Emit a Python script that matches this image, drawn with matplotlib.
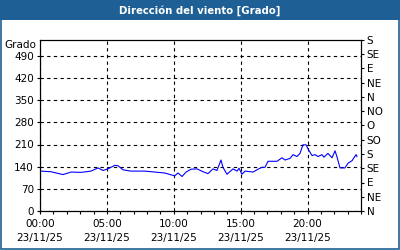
import matplotlib
matplotlib.use('Agg')
import matplotlib.pyplot as plt
from matplotlib.patches import Rectangle
from matplotlib.ticker import MultipleLocator

# hours since 00:00 on 23/11/25, wind direction in degrees
hours = [0.05, 0.82, 1.72, 2.32, 3.07, 3.81, 4.34, 4.71, 5.08, 5.58,
         5.83, 6.21, 6.80, 7.83, 8.58, 9.32, 10.07, 10.32, 10.62, 10.92,
         11.29, 11.74, 12.19, 12.56, 12.93, 13.23, 13.53, 13.68, 13.98, 14.43,
         14.73, 14.88, 15.10, 15.33, 15.93, 16.30, 16.60, 16.82, 17.05, 17.72,
         18.09, 18.32, 18.69, 18.92, 19.21, 19.44, 19.66, 19.89, 20.04, 20.34,
         20.56, 20.79, 21.08, 21.23, 21.53, 21.83, 22.06, 22.21, 22.43, 22.80,
         23.03, 23.33, 23.63, 23.70]
degrees = [126, 124, 115, 123, 122, 126, 136, 128, 133, 144,
           143, 130, 126, 126, 123, 120, 111, 120, 109, 123,
           132, 133, 124, 118, 133, 128, 161, 138, 116, 133,
           126, 135, 116, 126, 123, 132, 138, 138, 157, 157,
           168, 161, 166, 178, 172, 182, 209, 209, 196, 175,
           178, 172, 178, 170, 182, 168, 190, 170, 136, 136,
           151, 159, 178, 172]

x_ticks = [0, 5, 10, 15, 20]
x_labels = ['00:00\n23/11/25', '05:00\n23/11/25', '10:00\n23/11/25',
            '15:00\n23/11/25', '20:00\n23/11/25']
y_ticks = [0, 70, 140, 210, 280, 350, 420, 490]
compass_ticks = [0, 45, 90, 135, 180, 225, 270, 315, 360, 405, 450, 495, 540]
compass_labels = ['N', 'NE', 'E', 'SE', 'S', 'SO', 'O', 'NO', 'N', 'NE', 'E', 'SE', 'S']

BLUE_BAR = '#1e5f96'
FS = 7.5

fig = plt.figure(figsize=(4, 2.5), dpi=100)
fig.patch.set_facecolor('white')

# title bar and outer frame
fig.add_artist(Rectangle((0, 0.92), 1, 0.08, transform=fig.transFigure,
                         facecolor=BLUE_BAR, edgecolor='none'))
fig.add_artist(Rectangle((0.002, 0.003), 0.996, 0.995, transform=fig.transFigure,
                         facecolor='none', edgecolor=BLUE_BAR, linewidth=1.2))
fig.text(0.5, 0.958, 'Dirección del viento [Grado]', ha='center', va='center',
         color='white', fontsize=7.3, fontweight='bold')

ax = fig.add_axes([0.1, 0.156, 0.8025, 0.684])
ax.plot(hours, degrees, color='#0000ff', linewidth=0.8)
ax.set_xlim(0, 24)
ax.set_ylim(0, 540)

ax.set_xticks(x_ticks)
ax.set_xticklabels(x_labels, fontsize=FS, linespacing=1.5)
ax.xaxis.set_minor_locator(MultipleLocator(1))
ax.set_yticks(y_ticks)
ax.set_yticklabels([str(v) for v in y_ticks], fontsize=FS)
ax.tick_params(axis='both', which='both', direction='out', length=2.5,
               width=0.8, pad=2)
ax.tick_params(axis='x', which='major', pad=3)
ax.grid(True, which='major', color='black', linestyle=(0, (3, 3)), linewidth=0.8)
for s in ax.spines.values():
    s.set_linewidth(0.8)

ax2 = ax.twinx()
ax2.set_ylim(0, 540)
ax2.set_yticks(compass_ticks)
ax2.set_yticklabels(compass_labels, fontsize=FS)
ax2.tick_params(axis='y', direction='out', length=2.5, width=0.8, pad=1.5)

fig.text(0.09, 0.82, 'Grado', ha='right', va='center', fontsize=FS)

fig.savefig('out.png', dpi=100, facecolor='white')
